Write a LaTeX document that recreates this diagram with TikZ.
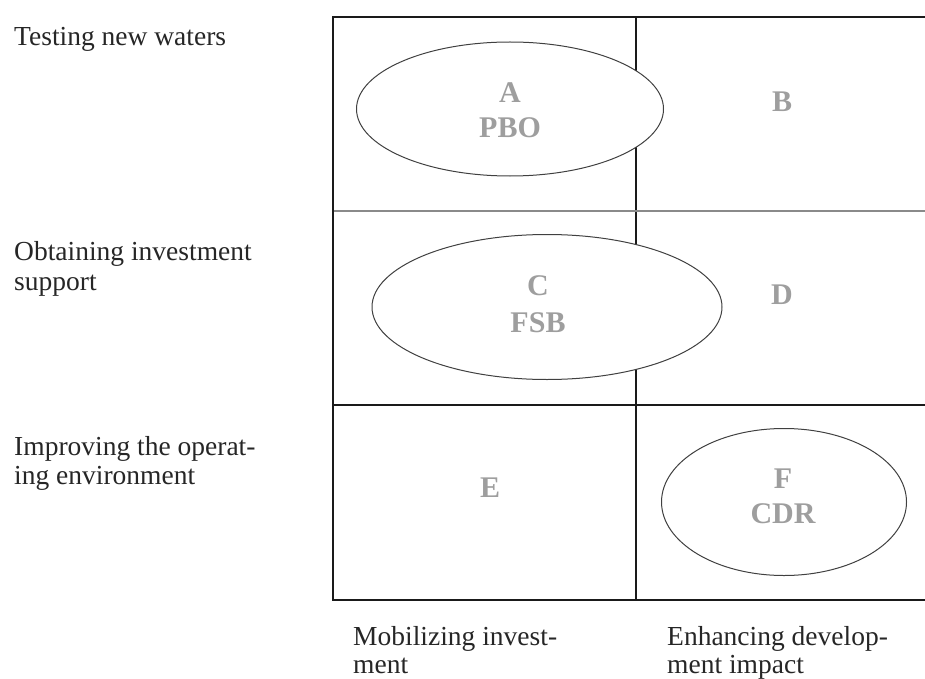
\documentclass[tikz,border=0pt]{standalone}
\usepackage{fontspec}
\setmainfont{Liberation Serif}
\usetikzlibrary{shapes.geometric}
\definecolor{cellgray}{HTML}{9E9E9E}
\definecolor{framec}{HTML}{1A1A1A}
\definecolor{midline}{HTML}{8A8A8A}
\tikzset{
  frame/.style={draw=framec, line width=2pt},
  inner/.style={draw=framec, line width=1.6pt},
  oval/.style={ellipse, draw=black!75, line width=1pt, fill=white, inner sep=0pt},
  cell/.style={text=cellgray, font=\fontsize{30}{35}\bfseries\selectfont, anchor=base, inner sep=0pt},
  lab/.style={text=black!85, font=\fontsize{27.5}{30}\selectfont, anchor=base west, inner sep=0pt}
}
\begin{document}
\begin{tikzpicture}[x=1pt,y=-1pt]
\useasboundingbox (0,0) rectangle (925,679);
% grid
\draw[inner] (636,17) -- (636,600);
\draw[draw=midline, line width=1.6pt] (333,211) -- (925,211);
\draw[inner] (333,405) -- (925,405);
\draw[frame] (925,17) -- (333,17) -- (333,600) -- (925,600);
% ellipses
\node[oval, minimum width=307pt, minimum height=134pt] (ea) at (510,109) {};
\node[oval, minimum width=350pt, minimum height=145pt] (ec) at (547,307) {};
\node[oval, minimum width=245pt, minimum height=147pt] (ef) at (784,502) {};
% cell texts
\node[cell] (a1) at (510,103) {A};
\node[cell] (a2) at (510,138) {PBO};
\node[cell] (b) at (782,112) {B};
\node[cell] (c1) at (538,295) {C};
\node[cell] (c2) at (538,332) {FSB};
\node[cell] (d) at (782,304) {D};
\node[cell] (e) at (490,497) {E};
\node[cell] (f1) at (783,488) {F};
\node[cell] (f2) at (783,523) {CDR};
% side labels
\node[lab] (l1) at (14,46) {Testing new waters};
\node[lab] (l2a) at (14,260) {Obtaining investment};
\node[lab] (l2b) at (14,290) {support};
\node[lab] (l3a) at (14,455) {Improving the operat-};
\node[lab] (l3b) at (14,484) {ing environment};
\node[lab] (l4a) at (353,645) {Mobilizing invest-};
\node[lab] (l4b) at (353,673) {ment};
\node[lab] (l5a) at (667,645) {Enhancing develop-};
\node[lab] (l5b) at (667,673) {ment impact};
\end{tikzpicture}
\end{document}
